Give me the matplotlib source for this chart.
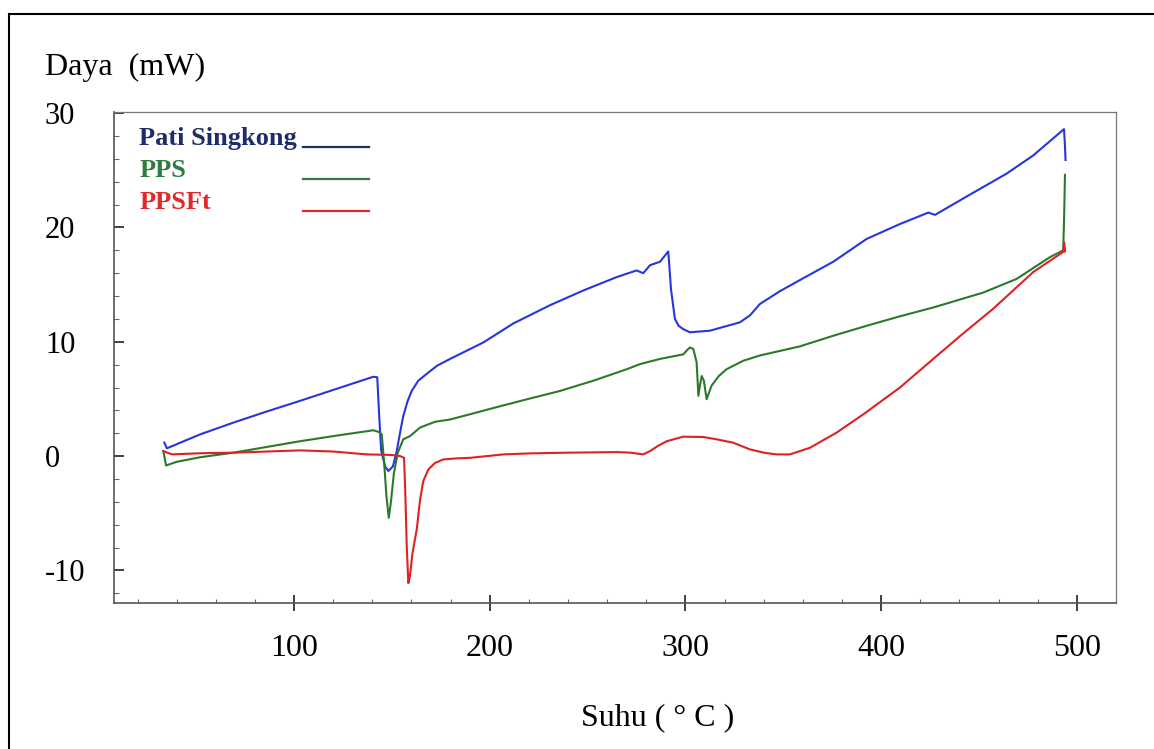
import matplotlib
matplotlib.use("Agg")
import matplotlib.pyplot as plt
from matplotlib.lines import Line2D
from matplotlib.patches import Rectangle
from matplotlib.ticker import MultipleLocator

plt.rcParams["font.family"] = ["Liberation Serif", "DejaVu Serif"]

# DSC curves: temperature (C) and heat flow (mW)
suhu_pati = [33.7, 35.0, 52, 69, 86, 103, 122, 140.5, 142.5, 143.5, 144.5, 146.5, 148.2,
             150.5, 152.3, 154, 155.8, 158, 160.1, 163.5, 167.8, 173, 179.7, 188, 196.8,
             212, 230.8, 248, 264.9, 275.0, 278.4, 281.9, 287.0, 291.2, 291.8, 292.6,
             294.6, 296.5, 298.9, 302.3, 312.5, 327.8, 332.9, 338.0, 348, 358.5, 375.5,
             392.6, 409.6, 424.1, 427.5, 443.6, 464.0, 477.7, 493.4, 493.8, 494.2]
daya_pati = [1.18, 0.68, 1.9, 2.93, 3.9, 4.83, 5.9, 6.94, 6.9, 3.5, 0.5, -0.9, -1.3,
             -0.9, 0.3, 1.9, 3.5, 4.8, 5.7, 6.6, 7.2, 7.9, 8.5, 9.2, 9.95,
             11.6, 13.2, 14.5, 15.66, 16.24, 16.0, 16.7, 17.0, 17.9, 16.5, 14.6,
             12.0, 11.4, 11.1, 10.83, 10.97, 11.7, 12.3, 13.3, 14.4, 15.4, 17.0,
             19.0, 20.3, 21.3, 21.1, 22.7, 24.7, 26.3, 28.6, 27.5, 25.9]

suhu_pps = [33.2, 34.6, 40, 52, 69, 86, 103, 122, 140.5, 143.5, 144.8, 146, 147.2, 148.4,
            149.5, 151, 153, 155.8, 159.3, 164.4, 172, 179.7, 189.9, 205, 220.6, 235.9,
            253, 270, 276.8, 287, 298.9, 301, 302.3, 304, 305.7, 306.6, 307.5, 308.3,
            309.4, 310.8, 313.3, 317, 321, 329.5, 338, 358.5, 375, 392.6, 409, 426.6,
            452.1, 469.2, 486.2, 493, 493.5, 493.9]
daya_pps = [0.44, -0.82, -0.5, -0.1, 0.3, 0.8, 1.3, 1.8, 2.26, 2.1, 1.9, -0.5, -3.5, -5.4,
            -4.0, -1.5, 0.3, 1.47, 1.76, 2.5, 3.0, 3.2, 3.66, 4.35, 5.04, 5.7,
            6.6, 7.6, 8.05, 8.5, 8.9, 9.3, 9.5, 9.37, 8.2, 5.27, 6.3, 7.0,
            6.6, 4.98, 6.15, 7.0, 7.6, 8.34, 8.8, 9.6, 10.5, 11.4, 12.2, 13.0,
            14.3, 15.5, 17.4, 18.0, 21.0, 24.6]

suhu_ppsft = [33.2, 37.5, 52, 69, 86, 103, 120, 137.1, 150, 154.2, 156.2, 156.8, 157.6,
              158.4, 159.2, 160.5, 162.7, 164.4, 166, 168.6, 172, 176.3, 183, 190, 207,
              220.6, 240, 264.9, 272, 278.4, 281.9, 286, 290.4, 298.9, 309.1, 315.9, 324.4,
              332.9, 340, 346.5, 353.4, 363.6, 377.2, 390.9, 409.6, 426.6, 441, 457.3,
              477.7, 493, 493.5, 494]
daya_ppsft = [0.44, 0.15, 0.25, 0.3, 0.4, 0.5, 0.4, 0.15, 0.1, 0.0, -0.15, -3, -8,
              -11.1, -10.5, -8.5, -6.4, -3.8, -2.2, -1.17, -0.6, -0.29, -0.2, -0.15, 0.15,
              0.24, 0.3, 0.35, 0.3, 0.15, 0.44, 0.9, 1.3, 1.7, 1.67, 1.47, 1.17,
              0.59, 0.3, 0.15, 0.15, 0.73, 2.05, 3.66, 6.0, 8.5, 10.6, 12.9,
              16.1, 17.86, 18.7, 17.9]

nama = ["Pati Singkong", "PPS", "PPSFt"]
warna_kurva = ["#2536dc", "#2b7a2b", "#dc2222"]
warna_legend = ["#1d2c6c", "#2f7d3e", "#e02a2a"]

x_ticks = [100, 200, 300, 400, 500]
y_ticks = [-10, 0, 10, 20, 30]

fig = plt.figure(figsize=(11.54, 7.49), dpi=100)
ax = fig.add_axes([0.0988, 0.1949, 0.8683, 0.6556])

for x, y, c in zip([suhu_pati, suhu_pps, suhu_ppsft],
                   [daya_pati, daya_pps, daya_ppsft], warna_kurva):
    ax.plot(x, y, color=c, lw=1.5, solid_joinstyle="round")

ax.set_xlim(8, 520)
ax.set_ylim(-12.85, 30.1)
ax.set_xticks(x_ticks)
ax.set_yticks(y_ticks)
ax.set_yticklabels([str(v) for v in y_ticks])
ax.xaxis.set_minor_locator(MultipleLocator(20))
ax.yaxis.set_minor_locator(MultipleLocator(2))

for s in ["left", "bottom"]:
    ax.spines[s].set_color("#555555")
    ax.spines[s].set_linewidth(1.2)
for s in ["top", "right"]:
    ax.spines[s].set_color("#777777")
    ax.spines[s].set_linewidth(0.9)

ax.tick_params(axis="x", which="major", direction="inout", length=11, width=1.3,
               color="#333333", labelsize=23, pad=17, top=False)
ax.tick_params(axis="x", which="minor", direction="in", length=3, width=0.8,
               color="#666666", top=False)
ax.tick_params(axis="y", which="major", direction="in", length=7, width=1.3,
               color="#333333", labelsize=22, pad=49.7, right=False)
ax.tick_params(axis="y", which="minor", direction="in", length=3.5, width=0.8,
               color="#666666", right=False)
for lbl in ax.get_yticklabels():
    lbl.set_horizontalalignment("left")

ax.set_ylabel("Daya  (mW)", fontsize=23, rotation=0, ha="left", va="baseline")
ax.yaxis.set_label_coords(-0.0689, 1.0754)
ax.set_xlabel("Suhu ( \u00b0 C )", fontsize=23, va="center")
ax.xaxis.set_label_coords(0.543, -0.234)

# legend: names in one column, line keys in a separate column
teks = [Line2D([], [], color="none") for _ in nama]
leg1 = ax.legend(teks, nama, loc="upper left", bbox_to_anchor=(0.025, 0.9695),
                 frameon=False, handlelength=0, handletextpad=0, borderpad=0,
                 borderaxespad=0, labelspacing=0.31,
                 prop={"family": "Liberation Serif", "weight": "bold", "size": 19})
for t, c in zip(leg1.get_texts(), warna_legend):
    t.set_color(c)
ax.add_artist(leg1)

kunci = [Line2D([], [], color=c, lw=1.6) for c in warna_legend]
ax.legend(kunci, ["", "", ""], loc="upper left", bbox_to_anchor=(0.1886, 0.947),
          frameon=False, handlelength=2.5, handletextpad=0, borderpad=0,
          borderaxespad=0, labelspacing=0.31,
          prop={"family": "Liberation Serif", "weight": "bold", "size": 19})

# outer frame around the figure
fig.patches.append(Rectangle((9 / 1154, -0.05), 1.2, 1 - 14 / 749 + 0.05,
                             transform=fig.transFigure, fill=False,
                             edgecolor="black", lw=1.5))

fig.savefig("out.png", dpi=100)
